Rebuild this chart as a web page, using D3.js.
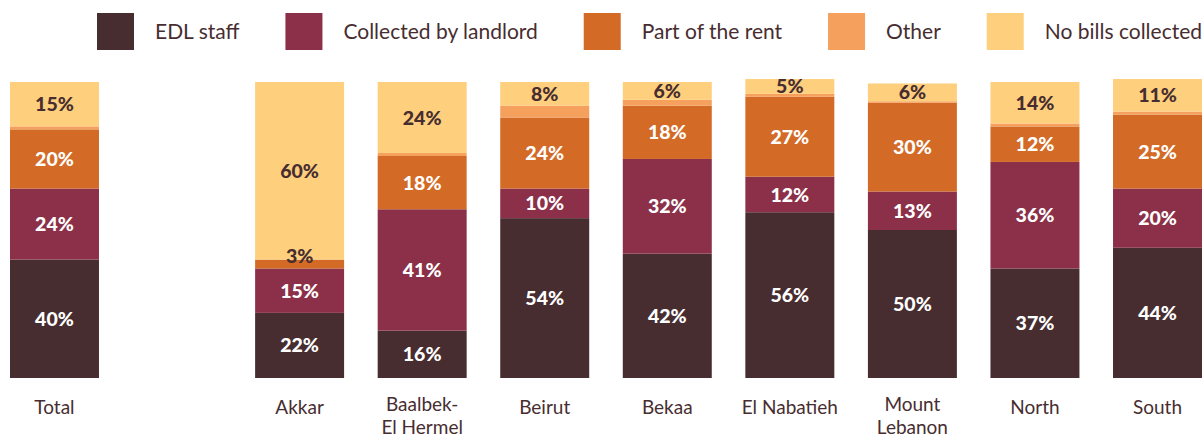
<!DOCTYPE html>
<html>
<head>
<meta charset="utf-8">
<script src="https://cdn.jsdelivr.net/npm/d3@7"></script>
<style>
  body { margin: 0; background: #fff; }
  svg text { font-family: Lato, "Noto Sans", sans-serif; fill: #472d30; }
</style>
</head>
<body>
<svg id="chart" width="1203" height="439"></svg>
<script>
// region names (Total first, a blank slot after it)
const categories = ['Total', 'Akkar', 'Baalbek-El Hermel', 'Beirut', 'Bekaa', 'El Nabatieh', 'Mount Lebanon', 'North', 'South'];
const tickLabels = [['Total'], ['Akkar'], ['Baalbek-', 'El Hermel'], ['Beirut'], ['Bekaa'], ['El Nabatieh'], ['Mount', 'Lebanon'], ['North'], ['South']];

const seriesNames = ['EDL staff', 'Collected by landlord', 'Part of the rent', 'Other', 'No bills collected'];
const edlStaff = [40, 22, 16, 54, 42, 56, 50, 37, 44];
const byLandlord = [24, 15, 41, 10, 32, 12, 13, 36, 20];
const partOfRent = [20, 3, 18, 24, 18, 27, 30, 12, 25];
const other = [1, 0, 1, 4, 2, 1, 0.5, 1, 1];
const noBills = [15, 60, 24, 8, 6, 5, 6, 14, 11];

const colors = ['#472d30', '#8b3048', '#d36a26', '#f5a05c', '#fecf7d'];
const labelColors = ['#fff', '#fff', '#fff', null, '#472d30'];

const svg = d3.select('#chart');

const rows = categories.map((c, i) => ({
    cat: c,
    'EDL staff': edlStaff[i],
    'Collected by landlord': byLandlord[i],
    'Part of the rent': partOfRent[i],
    'Other': other[i],
    'No bills collected': noBills[i]
}));

const domain = [categories[0], '_gap'].concat(categories.slice(1));

const x = d3.scaleBand()
    .domain(domain)
    .range([10, 1202])
    .paddingInner(0.274)
    .paddingOuter(0);

const y = d3.scaleLinear()
    .domain([0, 100])
    .range([378, 82]);

const color = d3.scaleOrdinal().domain(seriesNames).range(colors);

const stacked = d3.stack().keys(seriesNames)(rows);

const layers = svg.append('g')
    .selectAll('g')
    .data(stacked)
    .enter()
    .append('g')
    .attr('fill', d => color(d.key));

layers.selectAll('rect')
    .data(d => d)
    .enter()
    .append('rect')
    .attr('x', d => x(d.data.cat))
    .attr('width', x.bandwidth())
    .attr('y', d => y(d[1]))
    .attr('height', d => y(d[0]) - y(d[1]));

// value labels (not for "Other")
stacked.forEach((layer, li) => {
    if (!labelColors[li]) return;
    svg.append('g')
        .selectAll('text')
        .data(layer)
        .enter()
        .append('text')
        .attr('x', d => x(d.data.cat) + x.bandwidth() / 2)
        .attr('y', d => {
            const h = y(d[0]) - y(d[1]);
            if (h < 12) return y(d[1]) - 4;
            return (y(d[0]) + y(d[1])) / 2;
        })
        .attr('dy', '0.36em')
        .attr('text-anchor', 'middle')
        .style('font-size', '19.5px')
        .style('font-weight', 900)
        .style('fill', d => (y(d[0]) - y(d[1]) < 12) ? '#472d30' : labelColors[li])
        .text(d => d.data[layer.key] + '%');
});

// category labels, one text per line
const tickGroup = svg.append('g');
categories.forEach((c, i) => {
    const lines = tickLabels[i];
    lines.forEach((line, j) => {
        tickGroup.append('text')
            .attr('x', x(c) + x.bandwidth() / 2)
            .attr('y', lines.length > 1 ? 411 + j * 23 : 414)
            .attr('text-anchor', 'middle')
            .style('font-size', '19px')
            .text(line);
    });
});

// legend, spread from the first square to the right edge
const legend = svg.append('g');
const legendTexts = seriesNames.map((name, i) => legend.append('text')
    .attr('y', 32)
    .attr('dy', '0.35em')
    .style('font-size', '21px')
    .text(name));
const widths = legendTexts.map(t => t.node().getComputedTextLength());
const legendStart = 97, legendEnd = 1202, textOffset = 58;
const gap = (legendEnd - legendStart - d3.sum(widths) - textOffset * seriesNames.length) / (seriesNames.length - 1);
let lx = legendStart;
seriesNames.forEach((name, i) => {
    legend.append('rect')
        .attr('x', lx)
        .attr('y', 13)
        .attr('width', 37)
        .attr('height', 37)
        .attr('fill', colors[i]);
    legendTexts[i].attr('x', lx + textOffset);
    lx += textOffset + widths[i] + gap;
});
</script>
</body>
</html>
